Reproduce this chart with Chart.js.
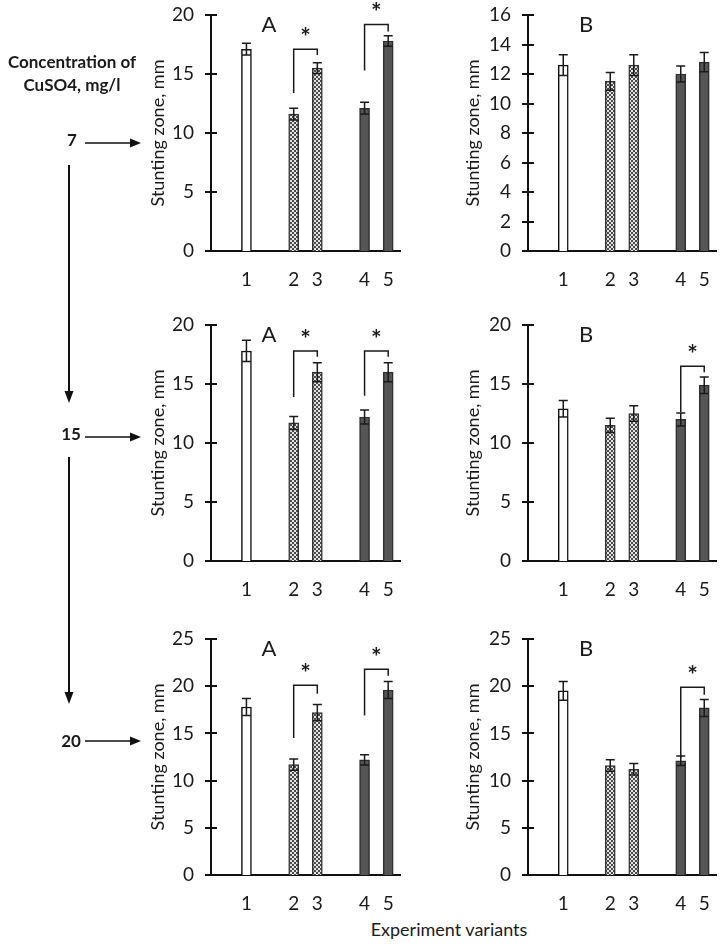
<!DOCTYPE html>
<html>
<head>
<meta charset="utf-8">
<script src="https://cdn.jsdelivr.net/npm/chart.js@4.4.1/dist/chart.umd.min.js"></script>
<style>
  body { margin: 0; background: #fff; font-family: Lato, sans-serif; color: #1a1a1a; }
  #page { position: relative; width: 724px; height: 946px; overflow: hidden; }
  .panel { position: absolute; }
  .note { position: absolute; font-weight: bold; font-size: 17px; text-align: center; line-height: 23px; }
  #xtitle { position: absolute; left: 339px; width: 220px; top: 918px; text-align: center; font-size: 18px; }
  svg { position: absolute; left: 0; top: 0; }
</style>
</head>
<body>
<div id="page">
  <div class="panel" style="left:140px;top:0px"><canvas id="a7" width="270" height="291"></canvas></div>
  <div class="panel" style="left:455px;top:0px"><canvas id="b7" width="265" height="291"></canvas></div>
  <div class="panel" style="left:140px;top:310px"><canvas id="a15" width="270" height="291"></canvas></div>
  <div class="panel" style="left:455px;top:310px"><canvas id="b15" width="265" height="291"></canvas></div>
  <div class="panel" style="left:140px;top:624px"><canvas id="a20" width="270" height="291"></canvas></div>
  <div class="panel" style="left:455px;top:624px"><canvas id="b20" width="265" height="291"></canvas></div>

  <svg width="150" height="946">
    <g stroke="#111" fill="none">
      <line x1="85" y1="143" x2="131" y2="143" stroke-width="1.5"/>
      <line x1="85" y1="437" x2="131" y2="437" stroke-width="1.5"/>
      <line x1="85" y1="741" x2="131" y2="741" stroke-width="1.5"/>
      <line x1="69" y1="165" x2="69" y2="392" stroke-width="2"/>
      <line x1="69" y1="457" x2="69" y2="693" stroke-width="2"/>
    </g>
    <g fill="#111">
      <polygon points="130,138.5 141,143 130,147.5"/>
      <polygon points="130,432.5 141,437 130,441.5"/>
      <polygon points="130,736.5 141,741 130,745.5"/>
      <polygon points="64.5,391 73.5,391 69,403"/>
      <polygon points="64.5,692 73.5,692 69,704"/>
    </g>
  </svg>
  <div class="note" style="left:0;width:144px;top:50px">Concentration of<br>CuSO4, mg/l</div>
  <div class="note" style="left:52px;width:40px;top:128px">7</div>
  <div class="note" style="left:51px;width:40px;top:422px">15</div>
  <div class="note" style="left:51px;width:40px;top:729px">20</div>
  <div id="xtitle">Experiment variants</div>
</div>

<script>
// Experiment variants and the empty slots that separate the groups on the x axis
const variantLabels = ['1', '2', '3', '4', '5'];
const slotLabels = ['', '1', '', '2', '3', '', '4', '5'];
const variantSlots = [1, 3, 4, 6, 7];

// Stunting zone (mm), mean and error, per CuSO4 concentration
const a7 = [17.1, 11.6, 15.5, 12.1, 17.8];
const a7Err = [0.5, 0.5, 0.45, 0.5, 0.45];
const b7 = [12.6, 11.5, 12.6, 12.0, 12.8];
const b7Err = [0.7, 0.6, 0.7, 0.55, 0.65];
const a15 = [17.8, 11.7, 16.0, 12.2, 16.0];
const a15Err = [0.9, 0.55, 0.8, 0.6, 0.8];
const b15 = [12.9, 11.5, 12.5, 12.0, 14.9];
const b15Err = [0.7, 0.6, 0.65, 0.55, 0.7];
const a20 = [17.8, 11.7, 17.2, 12.2, 19.6];
const a20Err = [0.9, 0.6, 0.85, 0.55, 0.9];
const b20 = [19.5, 11.6, 11.2, 12.1, 17.7];
const b20Err = [1.0, 0.6, 0.6, 0.5, 0.9];

// Significance brackets: [from variant, to variant, left foot, top, right foot] in mm
const a7Sig = [[2, 3, 13.4, 17.1, 16.6], [4, 5, 15.3, 19.2, 18.6]];
const b7Sig = [];
const a15Sig = [[2, 3, 13.9, 17.8, 17.3], [4, 5, 14.0, 17.8, 17.3]];
const b15Sig = [[4, 5, 12.6, 16.5, 16.0]];
const a20Sig = [[2, 3, 14.5, 20.1, 19.2], [4, 5, 16.9, 21.8, 21.1]];
const b20Sig = [[4, 5, 12.4, 19.9, 19.1]];

const ink = '#1a1a1a';

function checker(ctx) {
    const c = document.createElement('canvas');
    c.width = 4; c.height = 4;
    const g = c.getContext('2d');
    g.fillStyle = '#e4e4e4';
    g.fillRect(0, 0, 4, 4);
    g.fillStyle = '#4a4a4a';
    g.fillRect(0, 0, 2, 2);
    g.fillRect(2, 2, 2, 2);
    return ctx.createPattern(c, 'repeat');
}

// error bars, crossing y ticks, brackets and the panel letter
const panelMarks = {
    id: 'panelMarks',
    afterDatasetsDraw(chart, args, opts) {
        const { ctx, chartArea } = chart;
        const y = chart.scales.y;
        const bars = chart.getDatasetMeta(0).data;
        ctx.save();
        ctx.strokeStyle = ink;
        ctx.lineWidth = 1.5;
        variantSlots.forEach((slot, i) => {
            const bx = bars[slot].x;
            const hi = y.getPixelForValue(opts.values[i] + opts.errors[i]);
            const lo = y.getPixelForValue(opts.values[i] - opts.errors[i]);
            ctx.beginPath();
            ctx.moveTo(bx, hi); ctx.lineTo(bx, lo);
            ctx.moveTo(bx - 4.5, hi); ctx.lineTo(bx + 4.5, hi);
            ctx.moveTo(bx - 4.5, lo); ctx.lineTo(bx + 4.5, lo);
            ctx.stroke();
        });

        opts.brackets.forEach(([from, to, leftFoot, top, rightFoot]) => {
            const lx = bars[variantSlots[from - 1]].x;
            const rx = bars[variantSlots[to - 1]].x;
            const ty = y.getPixelForValue(top);
            ctx.beginPath();
            ctx.moveTo(lx, y.getPixelForValue(leftFoot));
            ctx.lineTo(lx, ty);
            ctx.lineTo(rx, ty);
            ctx.lineTo(rx, y.getPixelForValue(rightFoot));
            ctx.stroke();
            ctx.fillStyle = ink;
            ctx.font = 'bold 25px Lato';
            ctx.textAlign = 'center';
            ctx.textBaseline = 'alphabetic';
            ctx.fillText('*', (lx + rx) / 2, ty - 16 + 13);
        });

        ctx.fillStyle = ink;
        ctx.font = '22px Lato';
        ctx.textAlign = 'center';
        ctx.textBaseline = 'middle';
        ctx.fillText(opts.letter, chartArea.left + 58, chartArea.top + 10);
        ctx.restore();
    },
    afterDraw(chart) {
        const { ctx, chartArea } = chart;
        const y = chart.scales.y;
        ctx.save();
        ctx.strokeStyle = '#111';
        ctx.lineWidth = 2;
        y.ticks.forEach(t => {
            const py = Math.round(y.getPixelForValue(t.value));
            ctx.beginPath();
            ctx.moveTo(chartArea.left - 6, py);
            ctx.lineTo(chartArea.left + 6, py);
            ctx.stroke();
        });
        ctx.restore();
    },
};

function createPanel(id, letter, values, errors, brackets, yMax, yStep, yWidth, padRight) {
    const ctx = document.getElementById(id).getContext('2d');
    const pattern = checker(ctx);
    const fills = ['#ffffff', pattern, pattern, '#555555', '#555555'];
    const edges = ['#111111', '#333333', '#333333', '#2e2e2e', '#2e2e2e'];
    const data = slotLabels.map(() => null);
    const bg = slotLabels.map(() => 'transparent');
    const bd = slotLabels.map(() => 'transparent');
    variantSlots.forEach((slot, i) => {
        data[slot] = values[i];
        bg[slot] = fills[i];
        bd[slot] = edges[i];
    });

    new Chart(ctx, {
        type: 'bar',
        data: {
            labels: slotLabels,
            datasets: [{
                data: data,
                backgroundColor: bg,
                borderColor: bd,
                borderWidth: 1.5,
                barThickness: 10,
            }],
        },
        options: {
            responsive: false,
            animation: false,
            layout: { padding: { top: 15, right: padRight, left: 0, bottom: 0 } },
            plugins: {
                legend: { display: false },
                tooltip: { enabled: false },
                panelMarks: { letter, values, errors, brackets },
            },
            scales: {
                x: {
                    grid: { display: false, drawTicks: false },
                    border: { color: '#111', width: 2 },
                    ticks: { color: ink, font: { family: 'Lato', size: 19 }, padding: 17, autoSkip: false, maxRotation: 0 },
                    afterFit: s => { s.height = 40; s.paddingLeft = 0; s.paddingRight = 0; },
                },
                y: {
                    min: 0,
                    max: yMax,
                    grid: { display: false, drawTicks: false },
                    border: { color: '#111', width: 2 },
                    ticks: { stepSize: yStep, color: ink, font: { family: 'Lato', size: 19 }, padding: 17 },
                    title: {
                        display: true,
                        text: 'Stunting zone, mm',
                        color: ink,
                        font: { family: 'Lato', size: 18 },
                        padding: { top: 7, bottom: 0 },
                    },
                    afterFit: s => { s.width = yWidth; s.paddingTop = 0; s.paddingBottom = 0; },
                },
            },
        },
        plugins: [panelMarks],
    });
}

createPanel('a7', 'A', a7, a7Err, a7Sig, 20, 5, 71, 10);
createPanel('b7', 'B', b7, b7Err, b7Sig, 16, 2, 73, 4);
createPanel('a15', 'A', a15, a15Err, a15Sig, 20, 5, 71, 10);
createPanel('b15', 'B', b15, b15Err, b15Sig, 20, 5, 73, 4);
createPanel('a20', 'A', a20, a20Err, a20Sig, 25, 5, 71, 10);
createPanel('b20', 'B', b20, b20Err, b20Sig, 25, 5, 73, 4);
</script>
</body>
</html>
